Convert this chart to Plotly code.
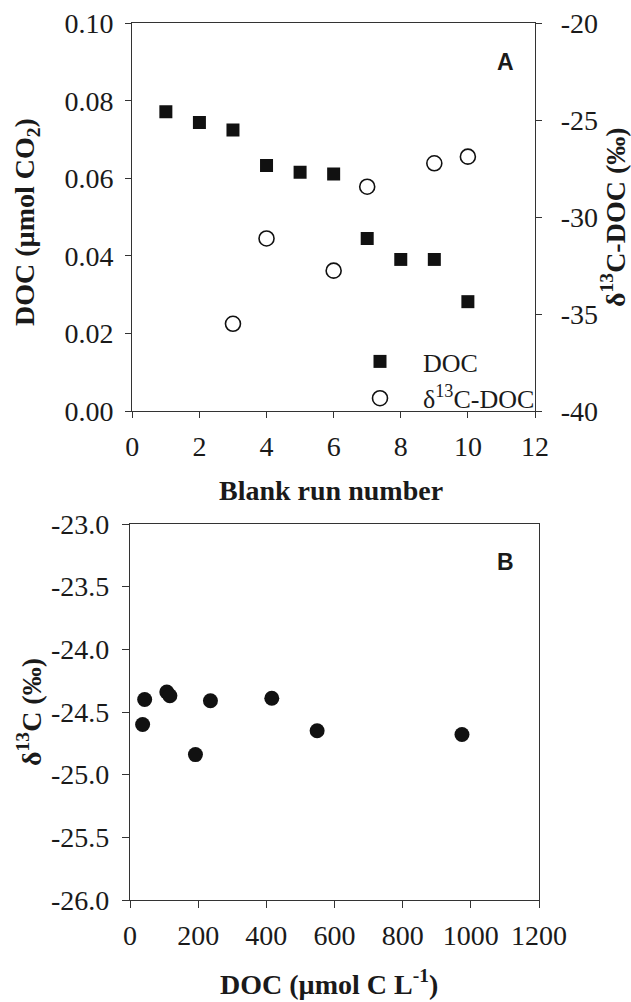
import plotly.graph_objects as go

# ---- Panel A data ----
run_number = [1, 2, 3, 4, 5, 6, 7, 8, 9, 10]
doc_umol_co2 = [0.0772, 0.0744, 0.0725, 0.0633, 0.0616, 0.0611, 0.0445, 0.0391, 0.0391, 0.0282]
d13c_run = [3, 4, 6, 7, 9, 10]
d13c_doc = [-35.5, -31.1, -32.76, -28.43, -27.22, -26.88]

# ---- Panel B data ----
doc_umol_c_l = [43, 37, 108, 117, 192, 236, 416, 549, 974]
d13c_b = [-24.40, -24.60, -24.34, -24.37, -24.84, -24.41, -24.39, -24.65, -24.68]

# ---- Tick values / labels ----
a_x_ticks = [0, 2, 4, 6, 8, 10, 12]
a_y_ticks = [0, 0.02, 0.04, 0.06, 0.08, 0.10]
a_y_labels = ["0.00", "0.02", "0.04", "0.06", "0.08", "0.10"]
a_y2_ticks = [-40, -35, -30, -25, -20]
a_y2_labels = ["-40", "-35", "-30", "-25", "-20"]
b_x_ticks = [0, 200, 400, 600, 800, 1000, 1200]
b_y_ticks = [-26, -25.5, -25, -24.5, -24, -23.5, -23]
b_y_labels = ["-26.0", "-25.5", "-25.0", "-24.5", "-24.0", "-23.5", "-23.0"]

W, H = 631, 1002
SERIF = "Liberation Serif, Times New Roman, serif"
TICKFONT = dict(family=SERIF, size=28, color="#1a1a1a")
LINEC = "#333333"

def px_x(p):
    return p / W

def px_y(p):
    return 1 - p / H

fig = go.Figure()

fig.add_trace(go.Scatter(
    x=run_number, y=doc_umol_co2, mode="markers", name="DOC",
    marker=dict(symbol="square", size=13, color="#111111", line=dict(width=0)),
    xaxis="x", yaxis="y"))
fig.add_trace(go.Scatter(
    x=d13c_run, y=d13c_doc, mode="markers", name="δ<sup>13</sup>C-DOC",
    marker=dict(symbol="circle", size=15, color="white", line=dict(width=1.6, color="#111111")),
    xaxis="x", yaxis="y2"))
fig.add_trace(go.Scatter(
    x=doc_umol_c_l, y=d13c_b, mode="markers", showlegend=False,
    marker=dict(symbol="circle", size=15, color="#111111", line=dict(width=0)),
    xaxis="x3", yaxis="y3"))

axis_common = dict(showline=True, linecolor=LINEC, linewidth=1.3, ticks="outside",
                   tickwidth=1.2, tickcolor=LINEC, showgrid=False,
                   zeroline=False, tickfont=TICKFONT, automargin=False)

topdom = [px_y(411), px_y(23.3)]
botdom = [px_y(900), px_y(524)]

fig.update_layout(
    width=W, height=H,
    margin=dict(l=0, r=0, t=0, b=0, autoexpand=False),
    paper_bgcolor="white", plot_bgcolor="white",
    xaxis=dict(domain=[px_x(132.3), px_x(535)], range=[0, 12], tickvals=a_x_ticks,
               anchor="y", mirror=True, ticklen=6, ticklabelstandoff=4, **axis_common),
    yaxis=dict(domain=topdom, range=[0, 0.1], tickvals=a_y_ticks, ticktext=a_y_labels,
               anchor="x", ticklen=6, ticklabelstandoff=6, **axis_common),
    yaxis2=dict(domain=topdom, range=[-40, -20], tickvals=a_y2_ticks, ticktext=a_y2_labels,
                overlaying="y", side="right", anchor="x", ticklen=6, ticklabelstandoff=13,
                **axis_common),
    xaxis3=dict(domain=[px_x(130), px_x(539)], range=[0, 1200],
                tickvals=b_x_ticks, anchor="y3", mirror=True, ticklen=7, ticklabelstandoff=3,
                **axis_common),
    yaxis3=dict(domain=botdom, range=[-26, -23], tickvals=b_y_ticks, ticktext=b_y_labels,
                anchor="x3", mirror=True, ticklen=7, ticklabelstandoff=7, **axis_common),
    showlegend=True,
    legend=dict(x=px_x(337), y=px_y(338), xanchor="left", yanchor="top",
                font=dict(family=SERIF, size=26, color="#1a1a1a"),
                bgcolor="rgba(0,0,0,0)", itemwidth=76, tracegroupgap=0),
)

TITLEFONT = dict(family=SERIF, size=28, color="#1a1a1a")
ann = [
    dict(text="<b>DOC (µmol CO<sub>2</sub>)</b>", x=px_x(27), y=px_y(222), textangle=-90),
    dict(text="<b>δ<sup>13</sup>C-DOC (‰)</b>", x=px_x(613), y=px_y(217), textangle=-90),
    dict(text="<b>Blank run number</b>", x=px_x(331), y=px_y(490), textangle=0),
    dict(text="<b>δ<sup>13</sup>C (‰)</b>", x=px_x(29), y=px_y(712), textangle=-90),
    dict(text="<b>DOC (µmol C L<sup>-1</sup>)</b>", x=px_x(329), y=px_y(982), textangle=0),
]
for a in ann:
    fig.add_annotation(xref="paper", yref="paper", showarrow=False, font=TITLEFONT,
                       xanchor="center", yanchor="middle", **a)

for lab, yy in [("A", 62), ("B", 562)]:
    fig.add_annotation(text="<b>%s</b>" % lab, xref="paper", yref="paper", x=px_x(505), y=px_y(yy),
                       showarrow=False, xanchor="center", yanchor="middle",
                       font=dict(family="Liberation Sans", size=23, color="#1a1a1a"))

fig.write_html("out.html")
